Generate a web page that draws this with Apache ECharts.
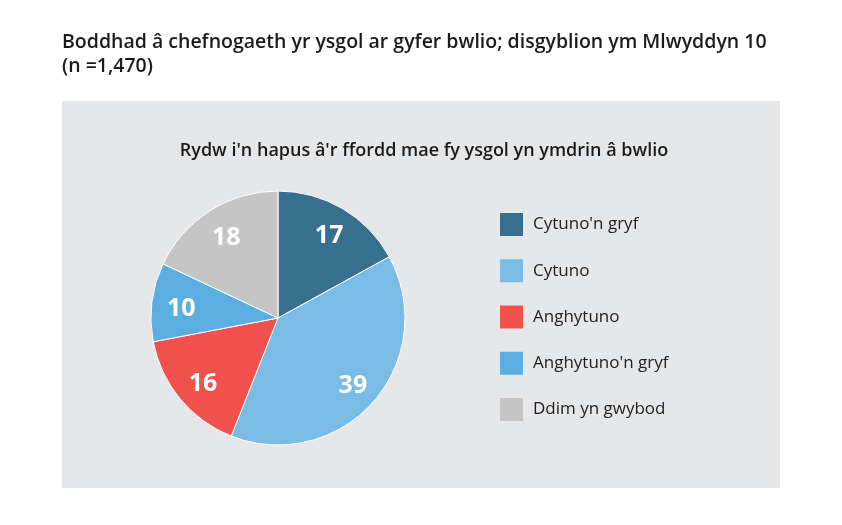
<!DOCTYPE html>
<html>
<head>
<meta charset="utf-8">
<script src="https://cdn.jsdelivr.net/npm/echarts@6/dist/echarts.min.js"></script>
<style>
  html, body { margin: 0; padding: 0; background: #fff; }
  #chart { width: 842px; height: 525px; }
</style>
</head>
<body>
<div id="chart"></div>
<script>
const categories = ['Cytuno\'n gryf', 'Cytuno', 'Anghytuno', 'Anghytuno\'n gryf', 'Ddim yn gwybod'];
const values = [17, 39, 16, 10, 18];
const colors = ['#37708f', '#7abce6', '#f0514d', '#5aaee0', '#c4c5c4'];

const mainTitle = 'Boddhad â chefnogaeth yr ysgol ar gyfer bwlio; disgyblion ym Mlwyddyn 10\n(n =1,470)';
const subTitle = 'Rydw i\'n hapus â\'r ffordd mae fy ysgol yn ymdrin â bwlio';

const pieData = categories.map((name, i) => ({ name, value: values[i], itemStyle: { color: colors[i] } }));

const chart = echarts.init(document.getElementById('chart'));

chart.setOption({
  animation: false,
  textStyle: { fontFamily: '"Open Sans", "Noto Sans", sans-serif' },
  graphic: [
    { type: 'rect', left: 62, top: 101, shape: { width: 718, height: 387 }, style: { fill: '#e6e7e9' }, z: -10 }
  ],
  title: [
    {
      text: mainTitle,
      left: 62, top: 30,
      padding: 0,
      textStyle: { fontSize: 19.5, fontWeight: 600, color: '#1b1b1b', lineHeight: 24, fontFamily: '"Open Sans", sans-serif' }
    },
    {
      text: subTitle,
      left: 424, top: 142, textAlign: 'center',
      padding: 0,
      textStyle: { fontSize: 18, fontWeight: 600, color: '#1b1b1b', fontFamily: '"Open Sans", sans-serif' }
    }
  ],
  legend: {
    orient: 'vertical',
    left: 495, top: 208,
    itemWidth: 23, itemHeight: 23,
    itemGap: 23.25,
    icon: 'rect',
    data: categories,
    itemStyle: { borderWidth: 0 },
    textStyle: { fontSize: 17, color: '#222', padding: [0, 0, 0, 5] }
  },
  series: [
    {
      type: 'pie',
      center: [278, 318],
      radius: [0, 127],
      startAngle: 90,
      clockwise: true,
      label: { show: false },
      labelLine: { show: false },
      itemStyle: { borderColor: '#fff', borderWidth: 1 },
      silent: true,
      data: pieData
    },
    {
      type: 'pie',
      center: [279, 321],
      radius: [64, 127],
      startAngle: 90,
      clockwise: true,
      silent: true,
      legendHoverLink: false,
      itemStyle: { color: 'transparent' },
      label: {
        show: true,
        position: 'inside',
        formatter: '{c}',
        color: '#fff',
        fontSize: 25,
        fontWeight: 'bold',
        fontFamily: '"Open Sans", sans-serif'
      },
      labelLine: { show: false },
      data: values.map((v, i) => ({ name: categories[i] + ' ', value: v }))
    }
  ]
});
</script>
</body>
</html>
